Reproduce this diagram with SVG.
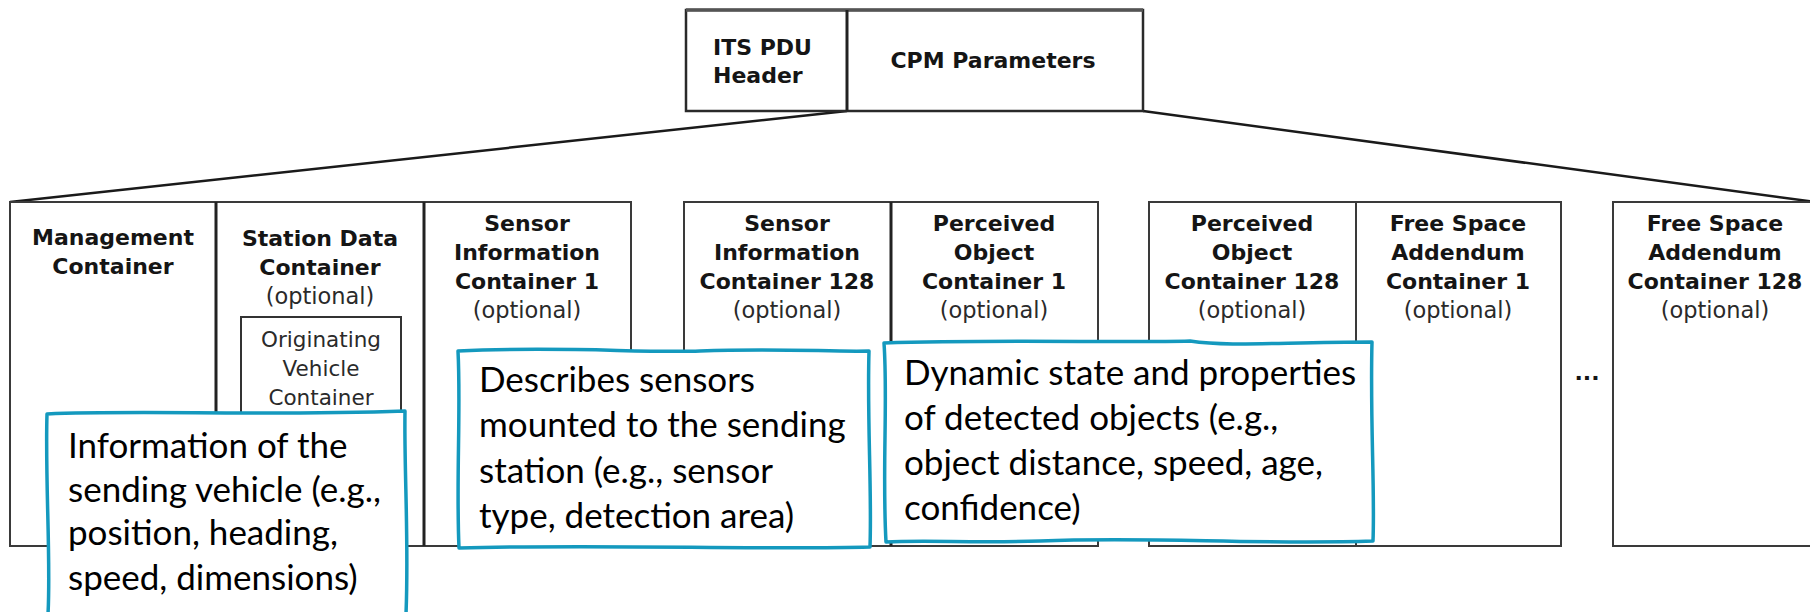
<svg xmlns="http://www.w3.org/2000/svg" width="1810" height="612" viewBox="0 0 1810 612">
<style>
  .box { fill: #fff; stroke: #3a3a3a; stroke-width: 2; }
  .thick { stroke: #222; stroke-width: 3; fill: none; }
  .b { font-family: "DejaVu Sans", Verdana, sans-serif; font-weight: bold; font-size: 22px; fill: #151515; text-anchor: middle; }
  .o { font-family: "DejaVu Sans", Verdana, sans-serif; font-size: 22.5px; fill: #2a2a2a; text-anchor: middle; }
  .inner { font-family: "DejaVu Sans", Verdana, sans-serif; font-size: 21.5px; fill: #2a2a2a; text-anchor: middle; }
  .conn { stroke: #1a1a1a; stroke-width: 2.5; fill: none; }
  .call { fill: #fff; stroke: #1499be; stroke-width: 3.5; stroke-linejoin: round; }
  .ct { font-family: Lato, "Open Sans", sans-serif; font-size: 35px; fill: #000; }
</style>

<g id="connectors">
  <line class="conn" x1="847" y1="111" x2="10" y2="202"/>
  <line class="conn" x1="1143" y1="111" x2="1815" y2="202"/>
</g>

<g id="cpm-top">
  <rect class="box" x="686" y="10" width="457" height="101" style="stroke:#2a2a2a;stroke-width:2.5"/>
  <line x1="686" y1="10" x2="1143" y2="10" style="stroke:#555;stroke-width:3.5"/>
  <line class="thick" x1="847" y1="10" x2="847" y2="111"/>
  <g id="its-pdu-header">
    <text class="b" x="713" y="55" style="text-anchor:start">ITS PDU</text>
    <text class="b" x="713" y="83" style="text-anchor:start">Header</text>
  </g>
  <g id="cpm-parameters">
    <text class="b" x="993" y="68">CPM Parameters</text>
  </g>
</g>

<g id="management-container">
  <rect class="box" x="10" y="202" width="206" height="344"/>
  <text class="b" x="113" y="245">Management</text>
  <text class="b" x="113" y="274">Container</text>
</g>

<g id="station-data-container">
  <rect class="box" x="216" y="202" width="208" height="344"/>
  <text class="b" x="320" y="246">Station Data</text>
  <text class="b" x="320" y="275">Container</text>
  <text class="o" x="320" y="304">(optional)</text>
  <g id="originating-vehicle-container">
    <rect class="box" x="241" y="317" width="160" height="120" style="stroke:#333"/>
    <text class="inner" x="321" y="347">Originating</text>
    <text class="inner" x="321" y="376">Vehicle</text>
    <text class="inner" x="321" y="405">Container</text>
  </g>
</g>

<g id="sensor-information-container-1">
  <rect class="box" x="424" y="202" width="207" height="344"/>
  <text class="b" x="527" y="231">Sensor</text>
  <text class="b" x="527" y="260">Information</text>
  <text class="b" x="527" y="289">Container 1</text>
  <text class="o" x="527" y="318">(optional)</text>
</g>

<g id="sensor-information-container-128">
  <rect class="box" x="684" y="202" width="207" height="344"/>
  <text class="b" x="787" y="231">Sensor</text>
  <text class="b" x="787" y="260">Information</text>
  <text class="b" x="787" y="289">Container 128</text>
  <text class="o" x="787" y="318">(optional)</text>
</g>

<g id="perceived-object-container-1">
  <rect class="box" x="891" y="202" width="207" height="344"/>
  <text class="b" x="994" y="231">Perceived</text>
  <text class="b" x="994" y="260">Object</text>
  <text class="b" x="994" y="289">Container 1</text>
  <text class="o" x="994" y="318">(optional)</text>
</g>

<g id="perceived-object-container-128">
  <rect class="box" x="1149" y="202" width="207" height="344"/>
  <text class="b" x="1252" y="231">Perceived</text>
  <text class="b" x="1252" y="260">Object</text>
  <text class="b" x="1252" y="289">Container 128</text>
  <text class="o" x="1252" y="318">(optional)</text>
</g>

<g id="free-space-addendum-container-1">
  <rect class="box" x="1356" y="202" width="205" height="344"/>
  <text class="b" x="1458" y="231">Free Space</text>
  <text class="b" x="1458" y="260">Addendum</text>
  <text class="b" x="1458" y="289">Container 1</text>
  <text class="o" x="1458" y="318">(optional)</text>
</g>

<g id="ellipsis">
  <text class="b" x="1587" y="380">...</text>
</g>

<g id="free-space-addendum-container-128">
  <rect class="box" x="1613" y="202" width="210" height="344"/>
  <text class="b" x="1715" y="231">Free Space</text>
  <text class="b" x="1715" y="260">Addendum</text>
  <text class="b" x="1715" y="289">Container 128</text>
  <text class="o" x="1715" y="318">(optional)</text>
</g>

<line class="thick" x1="216" y1="202" x2="216" y2="546"/>
<line class="thick" x1="424" y1="202" x2="424" y2="546"/>
<line class="thick" x1="891" y1="202" x2="891" y2="546"/>

<g id="callout-vehicle">
  <path class="call" d="M47,414 C140,410 260,416 405,411 C404,470 409,540 406,614 L48,614 C51,560 45,480 47,414 Z"/>
  <text class="ct" x="68" y="458">Information of the</text>
  <text class="ct" x="68" y="502">sending vehicle (e.g.,</text>
  <text class="ct" x="68" y="545">position, heading,</text>
  <text class="ct" x="68" y="590">speed, dimensions)</text>
</g>

<g id="callout-sensors">
  <path class="call" d="M458,351 C560,346 640,353 700,351 C780,348 830,352 869,351 C867,420 872,490 870,547 C760,550 600,544 459,548 C456,480 461,410 458,351 Z"/>
  <text class="ct" x="479" y="392">Describes sensors</text>
  <text class="ct" x="479" y="437">mounted to the sending</text>
  <text class="ct" x="479" y="483">station (e.g., sensor</text>
  <text class="ct" x="479" y="528">type, detection area)</text>
</g>

<g id="callout-objects">
  <path class="call" d="M884,343 C1000,339 1120,343 1190,341 C1230,347 1280,342 1372,342 C1370,420 1375,490 1373,541 C1250,545 1150,536 1040,541 C980,543 920,540 886,542 C882,470 888,400 884,343 Z"/>
  <text class="ct" x="904" y="385">Dynamic state and properties</text>
  <text class="ct" x="904" y="430">of detected objects (e.g.,</text>
  <text class="ct" x="904" y="475">object distance, speed, age,</text>
  <text class="ct" x="904" y="520">confidence)</text>
</g>
</svg>
